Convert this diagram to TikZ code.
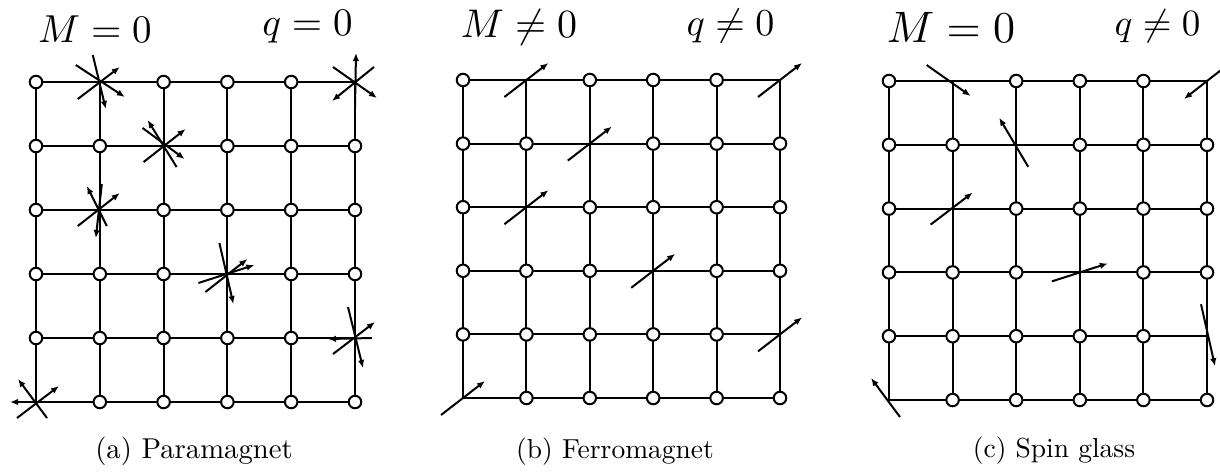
\RequirePackage{fix-cm}
\documentclass[tikz,border=0pt]{standalone}
\usetikzlibrary{arrows.meta,calc}
\tikzset{
  site/.style={circle,draw,fill=white,line width=2pt,minimum size=12.5pt,inner sep=0pt},
  bond/.style={line width=2.1pt},
  spin/.style={line width=2pt,-{Latex[length=8pt,width=6.5pt]}},
  title/.style={anchor=base,inner sep=0pt,font=\normalsize},
}
\newcommand\mylattice[5]{%
  \foreach \i in {0,...,5}{\foreach \j in {0,...,5}{
    \coordinate (#1\i\j) at ({#2+\i*#3},{#4+\j*#5});}}
  \foreach \i in {0,...,5}{\foreach \j [evaluate=\j as \k using int(\j+1)] in {0,...,4}{
    \draw[bond] (#1\i\j) -- (#1\i\k);
    \draw[bond] (#1\j\i) -- (#1\k\i);}}
  \foreach \i in {0,...,5}{\foreach \j in {0,...,5}{
    \pgfmathtruncatemacro\isspin{(\i==1&&\j==0)||(\i==5&&\j==0)||(\i==2&&\j==1)||(\i==1&&\j==2)||(\i==3&&\j==3)||(\i==5&&\j==4)||(\i==0&&\j==5)}
    \ifnum\isspin=0 \node[site] (#1c\i\j) at (#1\i\j) {};\fi}}
}
\newcommand\myspin[5]{\draw[spin] ($(#1)+(#2,#3)$) -- ($(#1)+(#4,#5)$);}
\begin{document}
\begin{tikzpicture}[x=1pt,y=-1pt]
\useasboundingbox (0,0) rectangle (1220,472);

\mylattice{a}{36}{63.8}{82}{64}
\mylattice{b}{463}{63.4}{80}{63.6}
\mylattice{c}{889}{63.6}{81}{63.8}

% (a) paramagnet
\myspin{a10}{-24}{-17}{25}{15}
\myspin{a10}{-22}{17}{20}{-15}
\myspin{a10}{-7}{-27}{6}{27}
\myspin{a21}{-20}{16}{22}{-17}
\myspin{a21}{-21}{-18}{21}{13}
\myspin{a21}{13}{21}{-16}{-26}
\myspin{a12}{-22}{16}{20}{-17}
\myspin{a12}{7}{16}{-13}{-24}
\myspin{a12}{2}{-26}{-4}{28}
\myspin{a33}{-29}{9}{27}{-9}
\myspin{a33}{-22}{18}{20}{-15}
\myspin{a33}{-8}{-31}{6}{30}
\myspin{a54}{-22}{16}{20}{-16}
\myspin{a54}{-7}{-31}{8}{30}
\myspin{a54}{17}{0}{-27}{1}
\myspin{a50}{0}{25}{1}{-29}
\myspin{a50}{-22}{-15}{22}{16}
\myspin{a50}{19}{-15}{-23}{19}
\myspin{a05}{17}{0}{-26}{0}
\myspin{a05}{-19}{16}{23}{-16}
\myspin{a05}{11}{16}{-18}{-23}

% (b) ferromagnet
\foreach \s in {b10,b50,b21,b12,b33,b54,b05}{\myspin{\s}{-22}{17}{22}{-17}}

% (c) spin glass
\myspin{c10}{-26}{-16}{18}{15}
\myspin{c50}{23}{-18}{-23}{18}
\myspin{c21}{12}{22}{-17}{-27}
\myspin{c12}{-22}{16}{20}{-16}
\myspin{c33}{-28}{9}{28}{-9}
\myspin{c54}{-6}{-32}{8}{30}
\myspin{c05}{11}{17}{-18}{-22}

% titles
\node[title,scale=3.9] (Ma) at (95,42) {$M = 0$};
\node[title,scale=3.9] (qa) at (307.5,35) {$q = 0$};
\node[title,scale=4.0] (Mb) at (519,37) {$M \neq 0$};
\node[title,scale=3.8] (qb) at (730.5,35) {$q \neq 0$};
\node[title,scale=4.4] (Mc) at (951,42) {$M = 0$};
\node[title,scale=3.7] (qc) at (1157.5,35) {$q \neq 0$};

% captions
\node[title,scale=2.87] (capa) at (194,458) {(a) Paramagnet};
\node[title,scale=2.75] (capb) at (615,458) {(b) Ferromagnet};
\node[title,scale=2.75] (capc) at (1054,457) {(c) Spin glass};
\end{tikzpicture}
\end{document}
